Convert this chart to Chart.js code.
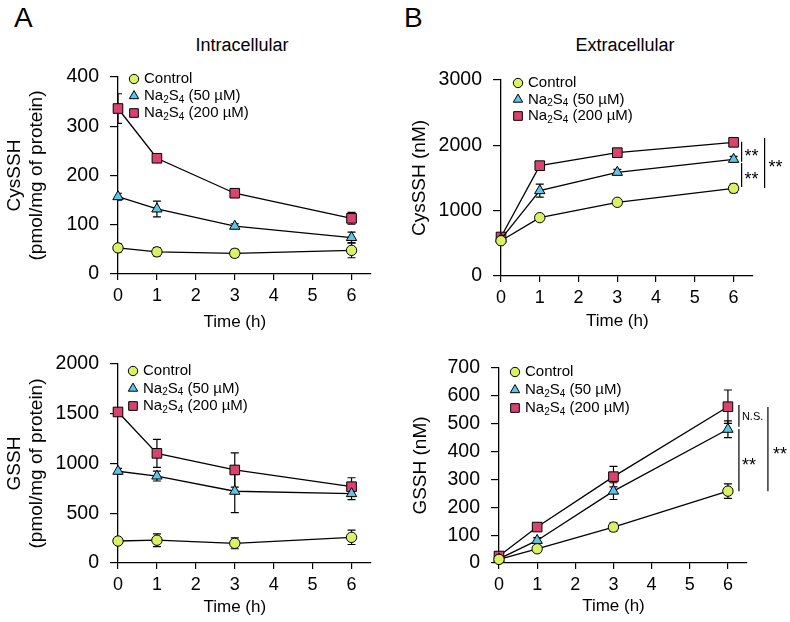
<!DOCTYPE html>
<html>
<head>
<meta charset="utf-8">
<script src="https://cdn.jsdelivr.net/npm/chart.js"></script>
<style>
  body { margin: 0; background: #fff; }
  #wrap { position: relative; width: 790px; height: 622px; font-family: 'Liberation Sans', Arial, sans-serif; color: #000; }
  canvas { position: absolute; }
  .lbl { position: absolute; white-space: nowrap; line-height: 1; }
  .panel { font-size: 28px; top: 4px; }
  .head { font-size: 18px; top: 36px; transform: translateX(-50%); }
</style>
</head>
<body>
<div id="wrap">
  <div class="lbl panel" style="left:14px">A</div>
  <div class="lbl panel" style="left:404px">B</div>
  <div class="lbl head" style="left:242px">Intracellular</div>
  <div class="lbl head" style="left:625px">Extracellular</div>
  <canvas id="aTop" width="395" height="340" style="left:0;top:0"></canvas>
  <canvas id="bTop" width="395" height="340" style="left:395px;top:0"></canvas>
  <canvas id="aBot" width="395" height="311" style="left:0;top:311px"></canvas>
  <canvas id="bBot" width="395" height="311" style="left:395px;top:311px"></canvas>
</div>
<script>
// time points and names
const hours = [0, 1, 3, 6];
const xTicks = [0, 1, 2, 3, 4, 5, 6];
const seriesNames = ['Control', 'Na₂S₄ (50 µM)', 'Na₂S₄ (200 µM)'];

// intracellular CysSSH (pmol/mg of protein)
const cysInCtrl = [53, 45, 42, 48];
const cysInCtrlErr = [8, 8, 8, 15];
const cysIn50 = [157, 132, 97, 74];
const cysIn50Err = [7, 16, 5, 11];
const cysIn200 = [336, 235, 164, 113];
const cysIn200Err = [30, 4, 8, 12];

// extracellular CysSSH (nM)
const cysExCtrl = [540, 893, 1128, 1342];
const cysExCtrlErr = [30, 40, 40, 65];
const cysEx50 = [565, 1306, 1587, 1786];
const cysEx50Err = [30, 100, 45, 45];
const cysEx200 = [597, 1689, 1888, 2046];
const cysEx200Err = [30, 30, 30, 30];

// intracellular GSSH (pmol/mg of protein)
const gsInCtrl = [221, 229, 198, 258];
const gsInCtrlErr = [35, 64, 55, 72];
const gsIn50 = [922, 874, 721, 697];
const gsIn50Err = [30, 50, 215, 60];
const gsIn200 = [1518, 1102, 935, 767];
const gsIn200Err = [20, 140, 172, 90];

// extracellular GSSH (nM)
const gsExCtrl = [13, 51, 129, 258];
const gsExCtrlErr = [3, 6, 15, 26];
const gsEx50 = [15, 81, 258, 480];
const gsEx50Err = [3, 10, 30, 30];
const gsEx200 = [25, 129, 310, 561];
const gsEx200Err = [5, 8, 37, 60];

const FONT = "'Liberation Sans', Arial, sans-serif";
Chart.defaults.font.family = FONT;
Chart.defaults.color = '#000';

const looks = [
  { pointStyle: 'circle', radius: 5.2, fill: '#dcf064' },
  { pointStyle: 'triangle', radius: 6, fill: '#5cc6e8' },
  { pointStyle: 'rect', radius: 6.8, fill: '#d9436f' }
];

// error bars, drawn under the lines and markers
const errorBars = {
  id: 'errorBars',
  beforeDatasetsDraw(chart) {
    const { ctx, chartArea, scales: { x, y } } = chart;
    ctx.save();
    ctx.beginPath();
    ctx.rect(chartArea.left, 0, chart.width, chart.height);
    ctx.clip();
    ctx.strokeStyle = '#000';
    ctx.lineWidth = 1.2;
    chart.data.datasets.forEach(ds => {
      ds.data.forEach((p, i) => {
        const e = ds.errors[i];
        const px = x.getPixelForValue(p.x);
        const y1 = y.getPixelForValue(p.y - e);
        const y2 = y.getPixelForValue(p.y + e);
        ctx.beginPath();
        ctx.moveTo(px, y1); ctx.lineTo(px, y2);
        ctx.moveTo(px - 4, y1); ctx.lineTo(px + 4, y1);
        ctx.moveTo(px - 4, y2); ctx.lineTo(px + 4, y2);
        ctx.stroke();
      });
    });
    ctx.restore();
  }
};

// legend in the plot corner, with subscripts for Na2S4
const subs = { '₂': '2', '₄': '4' };
const cornerLegend = {
  id: 'cornerLegend',
  afterDatasetsDraw(chart, args, opts) {
    const { ctx, chartArea } = chart;
    ctx.save();
    chart.data.datasets.forEach((ds, i) => {
      const mx = chartArea.left + opts.dx;
      const my = chartArea.top + opts.dy + i * opts.gap;
      ctx.fillStyle = ds.pointBackgroundColor;
      ctx.strokeStyle = '#000';
      ctx.lineWidth = 1;
      Chart.helpers.drawPoint(ctx, { pointStyle: ds.pointStyle, radius: ds.pointRadius * 0.9, borderWidth: 1, rotation: 0 }, mx, my);
      let tx = mx + 10;
      ctx.fillStyle = '#000';
      ctx.textBaseline = 'middle';
      for (const ch of ds.label) {
        if (subs[ch]) {
          ctx.font = '10px ' + FONT;
          ctx.fillText(subs[ch], tx, my + 4);
          tx += ctx.measureText(subs[ch]).width;
        } else {
          ctx.font = '15px ' + FONT;
          ctx.fillText(ch, tx, my);
          tx += ctx.measureText(ch).width;
        }
      }
    });
    ctx.restore();
  }
};

// significance brackets on the right of the 6 h points
const brackets = {
  id: 'brackets',
  afterDatasetsDraw(chart, args, opts) {
    if (!opts.items) return;
    const { ctx, scales: { x, y } } = chart;
    ctx.save();
    ctx.strokeStyle = '#000';
    ctx.lineWidth = 1.2;
    ctx.fillStyle = '#000';
    ctx.textBaseline = 'alphabetic';
    opts.items.forEach(b => {
      const bx = x.getPixelForValue(6) + b.dx;
      const y1 = y.getPixelForValue(b.from);
      const y2 = y.getPixelForValue(b.to);
      ctx.beginPath();
      ctx.moveTo(bx, y1); ctx.lineTo(bx, y2);
      ctx.stroke();
      const mid = (y1 + y2) / 2;
      if (b.text === '**') {
        ctx.font = '18px ' + FONT;
        ctx.fillText(b.text, bx + b.tdx, mid + 0.58 * 18);
      } else {
        ctx.font = '11px ' + FONT;
        ctx.fillText(b.text, bx + b.tdx, mid + 0.36 * 11);
      }
    });
    ctx.restore();
  }
};

// x title centred on the 0-6 h range
const timeTitle = {
  id: 'timeTitle',
  afterDraw(chart, args, opts) {
    const { ctx, scales: { x } } = chart;
    ctx.save();
    ctx.font = '17px ' + FONT;
    ctx.fillStyle = '#000';
    ctx.textAlign = 'center';
    ctx.textBaseline = 'middle';
    ctx.fillText(opts.text, x.getPixelForValue(3), x.top + opts.dy);
    ctx.restore();
  }
};

function makeChart(id, series, cfg) {
  const datasets = series.map((s, i) => ({
    label: seriesNames[i],
    data: hours.map((h, j) => ({ x: h, y: s.values[j] })),
    errors: s.errors,
    borderColor: '#000',
    borderWidth: 1.3,
    pointStyle: looks[i].pointStyle,
    pointRadius: looks[i].radius,
    pointBackgroundColor: looks[i].fill,
    pointBorderColor: '#000',
    pointBorderWidth: 1,
    tension: 0,
    clip: false
  }));
  return new Chart(document.getElementById(id), {
    type: 'line',
    data: { datasets },
    plugins: [errorBars, cornerLegend, brackets, timeTitle],
    options: {
      responsive: false,
      animation: false,
      layout: { padding: { left: 0, top: cfg.top, right: cfg.right, bottom: 0 } },
      plugins: {
        legend: { display: false },
        tooltip: { enabled: false },
        cornerLegend: cfg.legend,
        brackets: { items: cfg.brackets },
        timeTitle: { text: 'Time (h)', dy: cfg.titleDy }
      },
      scales: {
        x: {
          type: 'linear',
          min: 0,
          max: 6.5,
          afterBuildTicks: s => { s.ticks = xTicks.map(v => ({ value: v })); },
          afterFit: s => { s.height = cfg.xh; },
          grid: { drawOnChartArea: false, drawTicks: true, tickLength: 6, color: '#000', lineWidth: 1.2 },
          border: { color: '#000', width: 1.3 },
          ticks: { font: { size: 18 }, padding: 5, color: '#000', maxRotation: 0 }
        },
        y: {
          min: 0,
          max: cfg.yMax,
          afterFit: s => { s.width = cfg.yw; },
          grid: { drawOnChartArea: false, drawTicks: true, tickLength: 8, color: '#000', lineWidth: 1.2 },
          border: { color: '#000', width: 1.3 },
          ticks: { stepSize: cfg.yStep, font: { size: 19.5 }, padding: 11, color: '#000', callback: v => String(v) },
          title: { display: true, text: cfg.yTitle, font: { size: 19, lineHeight: 1.2 }, padding: { top: cfg.titlePad, bottom: 0 }, color: '#000' }
        }
      }
    }
  });
}

makeChart('aTop', [
  { values: cysInCtrl, errors: cysInCtrlErr },
  { values: cysIn50, errors: cysIn50Err },
  { values: cysIn200, errors: cysIn200Err }
], { top: 77, right: 24, xh: 66, yw: 118, yMax: 400, yStep: 100,
  yTitle: ['CysSSH', '(pmol/mg of protein)'], titlePad: 3, titleDy: 48,
  legend: { dx: 16, dy: 2, gap: 17 } });

makeChart('bTop', [
  { values: cysExCtrl, errors: cysExCtrlErr },
  { values: cysEx50, errors: cysEx50Err },
  { values: cysEx200, errors: cysEx200Err }
], { top: 80, right: 37, xh: 64, yw: 106, yMax: 3000, yStep: 1000,
  yTitle: 'CysSSH (nM)', titlePad: 13, titleDy: 45,
  legend: { dx: 17, dy: 3, gap: 16.5 },
  brackets: [
    { dx: 8, from: 2056, to: 1750, text: '**', tdx: 3 },
    { dx: 8, from: 1730, to: 1362, text: '**', tdx: 3 },
    { dx: 31, from: 2112, to: 1347, text: '**', tdx: 4 }
  ] });

makeChart('aBot', [
  { values: gsInCtrl, errors: gsInCtrlErr },
  { values: gsIn50, errors: gsIn50Err },
  { values: gsIn200, errors: gsIn200Err }
], { top: 53, right: 24, xh: 59, yw: 118, yMax: 2000, yStep: 500,
  yTitle: ['GSSH', '(pmol/mg of protein)'], titlePad: 3, titleDy: 44,
  legend: { dx: 15, dy: 7, gap: 17.5 } });

makeChart('bBot', [
  { values: gsExCtrl, errors: gsExCtrlErr },
  { values: gsEx50, errors: gsEx50Err },
  { values: gsEx200, errors: gsEx200Err }
], { top: 57, right: 43, xh: 59, yw: 104, yMax: 700, yStep: 100,
  yTitle: 'GSSH (nM)', titlePad: 14, titleDy: 43,
  legend: { dx: 16, dy: 4, gap: 18 },
  brackets: [
    { dx: 11, from: 567, to: 489, text: 'N.S.', tdx: 3 },
    { dx: 11, from: 481, to: 258, text: '**', tdx: 3 },
    { dx: 40, from: 560, to: 258, text: '**', tdx: 5 }
  ] });
</script>
</body>
</html>
